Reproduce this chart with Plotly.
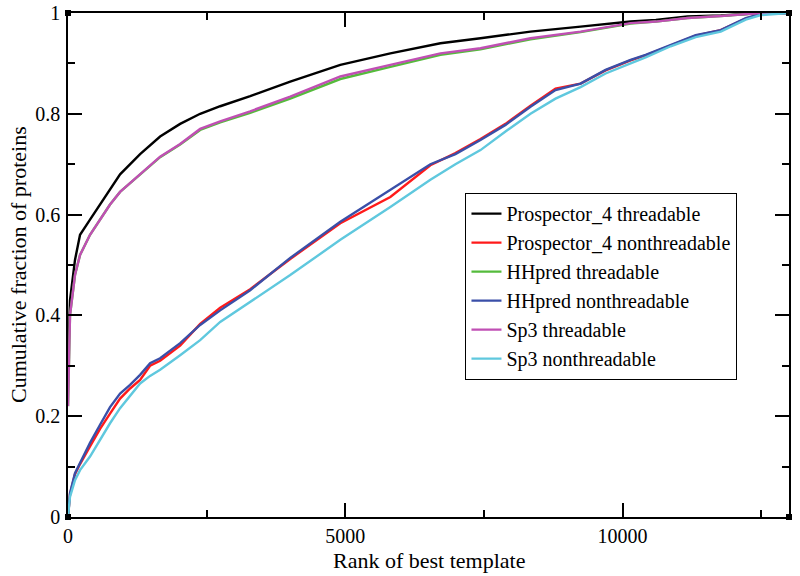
import plotly.graph_objects as go

# Ranks (x) and cumulative fractions (y)
x_thr = [0, 36, 126, 217, 397, 578, 758, 939, 1300, 1661, 2022, 2383, 2744, 3285,
         4007, 4910, 5812, 6715, 7437, 8339, 9242, 10144, 10600, 11170, 11770, 12490, 13000]
prosp_thr = [0.30, 0.43, 0.51, 0.56, 0.59, 0.62, 0.65, 0.68, 0.72, 0.755, 0.78, 0.80, 0.815, 0.835,
             0.864, 0.897, 0.92, 0.94, 0.95, 0.963, 0.973, 0.983, 0.986, 0.993, 0.995, 1.0, 1.0]
hhpred_thr = [0.22, 0.40, 0.48, 0.52, 0.56, 0.59, 0.62, 0.645, 0.68, 0.714, 0.739, 0.768, 0.783, 0.802,
              0.830, 0.869, 0.893, 0.917, 0.928, 0.948, 0.962, 0.979, 0.983, 0.990, 0.994, 1.0, 1.0]
sp3_thr = [0.22, 0.40, 0.48, 0.52, 0.56, 0.59, 0.62, 0.645, 0.68, 0.715, 0.74, 0.77, 0.785, 0.805,
           0.834, 0.874, 0.897, 0.92, 0.93, 0.95, 0.963, 0.98, 0.983, 0.990, 0.994, 1.0, 1.0]

x_non = [0, 36, 126, 217, 397, 578, 758, 939, 1119, 1300, 1480, 1661, 2022, 2383, 2744, 3285,
         4007, 4910, 5812, 6534, 6985, 7437, 7888, 8339, 8790, 9242, 9693, 10144, 10415,
         10866, 11318, 11769, 12220, 12491, 13000]
prosp_non = [0.0, 0.045, 0.085, 0.105, 0.14, 0.175, 0.205, 0.235, 0.255, 0.272, 0.30, 0.31, 0.34, 0.383,
             0.415, 0.452, 0.512, 0.583, 0.635, 0.698, 0.722, 0.750, 0.780, 0.816, 0.850, 0.860, 0.886,
             0.906, 0.916, 0.936, 0.955, 0.966, 0.989, 0.998, 1.0]
hhpred_non = [0.0, 0.047, 0.087, 0.107, 0.147, 0.183, 0.218, 0.245, 0.262, 0.282, 0.305, 0.315, 0.345, 0.381,
              0.41, 0.45, 0.514, 0.586, 0.649, 0.70, 0.72, 0.748, 0.778, 0.814, 0.847, 0.86, 0.887,
              0.907, 0.917, 0.937, 0.956, 0.966, 0.99, 0.998, 1.0]
sp3_non = [0.0, 0.04, 0.073, 0.093, 0.12, 0.153, 0.186, 0.216, 0.24, 0.265, 0.28, 0.292, 0.321, 0.351,
           0.387, 0.427, 0.48, 0.55, 0.615, 0.669, 0.70, 0.728, 0.765, 0.80, 0.83, 0.853, 0.88,
           0.90, 0.912, 0.934, 0.952, 0.963, 0.987, 0.996, 1.0]

x_ticks = [0, 5000, 10000]
x_ticklabels = ["0", "5000", "10000"]
y_ticks = [0, 0.2, 0.4, 0.6, 0.8, 1]
y_ticklabels = ["0", "0.2", "0.4", "0.6", "0.8", "1"]

series = [
    ("Prospector_4 threadable", x_thr, prosp_thr, "#000000"),
    ("Prospector_4 nonthreadable", x_non, prosp_non, "#ff1a1a"),
    ("HHpred threadable", x_thr, hhpred_thr, "#55bb3c"),
    ("HHpred nonthreadable", x_non, hhpred_non, "#3a4fa8"),
    ("Sp3 threadable", x_thr, sp3_thr, "#c04fb4"),
    ("Sp3 nonthreadable", x_non, sp3_non, "#5fc8de"),
]

fig = go.Figure()
for name, xs, ys, col in series:
    fig.add_trace(go.Scatter(x=xs, y=ys, mode="lines", name=name,
                             line=dict(color=col, width=2.4)))

font = "Times New Roman"
axis_common = dict(showgrid=False, zeroline=False, showline=True, linecolor="black",
                   linewidth=1.5, mirror="ticks", ticks="inside", ticklen=14,
                   tickwidth=1.5, tickcolor="black", automargin=False,
                   tickfont=dict(family=font, size=20, color="black"))

# small frame-corner squares (decoration, paper coordinates)
corner_shapes = []
for cx in (0, 1):
    for cy in (0, 1):
        corner_shapes.append(dict(type="rect", xref="paper", yref="paper",
                                  xsizemode="pixel", ysizemode="pixel",
                                  xanchor=cx, yanchor=cy, x0=-3, x1=3, y0=-3, y1=3,
                                  fillcolor="black", line=dict(width=0)))

fig.update_layout(
    width=800, height=576,
    margin=dict(l=68, r=11, t=13, b=59),
    paper_bgcolor="white", plot_bgcolor="white",
    font=dict(family=font, color="black"),
    xaxis=dict(range=[0, 13000], tickvals=x_ticks, ticktext=x_ticklabels, ticklabelstandoff=0,
               minor=dict(ticks="inside", ticklen=7, dtick=2500, tick0=0,
                          tickcolor="black", tickwidth=1.5),
               **axis_common),
    yaxis=dict(range=[0, 1], tickvals=y_ticks, ticktext=y_ticklabels, ticklabelstandoff=2,
               minor=dict(ticks="inside", ticklen=7, dtick=0.1, tick0=0,
                          tickcolor="black", tickwidth=1.5),
               **axis_common),
    legend=dict(x=0.551, y=0.643, xanchor="left", yanchor="top",
                bgcolor="white", bordercolor="black", borderwidth=1.2,
                font=dict(family=font, size=20, color="black"),
                tracegroupgap=0, itemwidth=30),
    showlegend=True,
    shapes=corner_shapes,
    annotations=[
        dict(text="Rank of best template", xref="paper", yref="paper", x=0.5, y=-0.086,
             xanchor="center", yanchor="middle", showarrow=False,
             font=dict(family=font, size=22, color="black")),
        dict(text="Cumulative fraction of proteins", xref="paper", yref="paper",
             x=-0.0693, y=0.5, xanchor="center", yanchor="middle", textangle=-90,
             showarrow=False, font=dict(family=font, size=22, color="black")),
    ],
)

fig.write_html("out.html", config={"displayModeBar": False},
               post_script="document.body.style.margin='0';")
